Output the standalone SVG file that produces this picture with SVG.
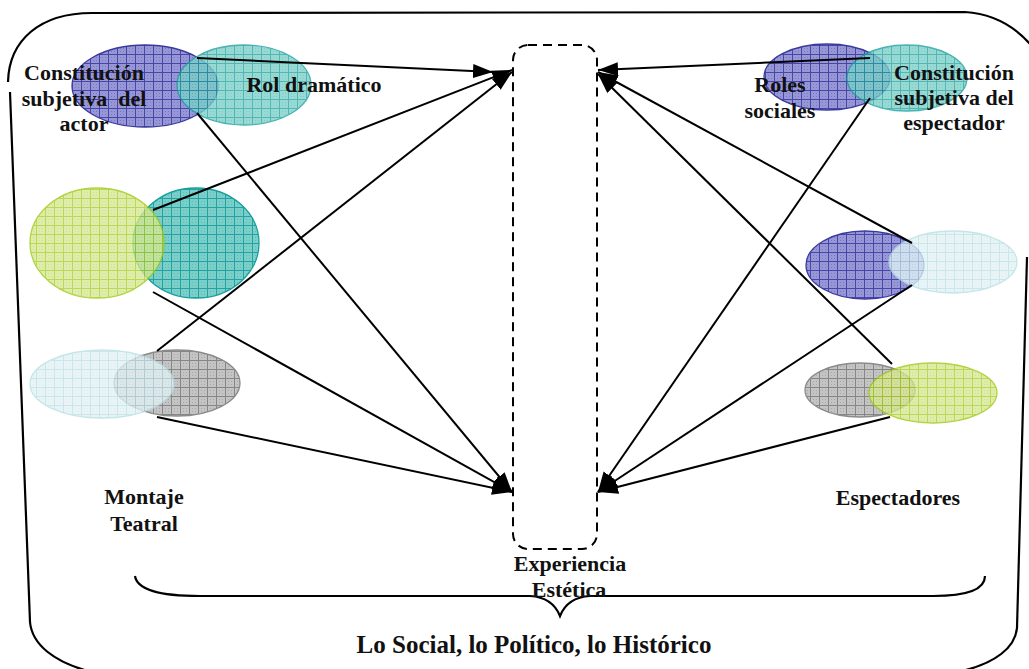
<svg xmlns="http://www.w3.org/2000/svg" width="1029" height="669" viewBox="0 0 1029 669">
  <style>
    .lbl { font-family: "Liberation Serif", "Times New Roman", serif; font-weight: bold; font-size: 22px; fill: #111; text-anchor: middle; white-space: pre; }
    .big { font-size: 25px; }
    .frame { fill: none; stroke: #000; stroke-width: 2.2; }
    .edge { fill: none; stroke: #000; stroke-width: 2; }
    .pur { fill: url(#pPur); stroke: #3a3a9e; stroke-width: 1.3; }
    .tea { fill: url(#pTea); stroke: #169e9e; stroke-width: 1.3; }
    .grn { fill: url(#pGrn); stroke: #9cc80c; stroke-width: 1.3; }
    .cya { fill: url(#pCya); stroke: #b6dfe4; stroke-width: 1.3; }
    .gry { fill: url(#pGry); stroke: #8a8a8a; stroke-width: 1.3; }
    .over { opacity: 0.78; }
  </style>
  <defs>
    <!-- grid fills -->
    <pattern id="pPur" width="9" height="9" patternUnits="userSpaceOnUse">
      <rect width="9" height="9" fill="#9797d6"/>
      <path d="M0 0.5H9M0.5 0V9" stroke="#4646aa" stroke-width="1"/>
      <path d="M3 3h1v1h-1zM6 6h1v1h-1zM6 3h1v1h-1zM3 6h1v1h-1z" fill="#7878c4"/>
    </pattern>
    <pattern id="pTea" width="9" height="9" patternUnits="userSpaceOnUse">
      <rect width="9" height="9" fill="#7ccfc9"/>
      <path d="M0 0.5H9M0.5 0V9" stroke="#22a2a0" stroke-width="1"/>
      <path d="M3 3h1v1h-1zM6 6h1v1h-1zM6 3h1v1h-1zM3 6h1v1h-1z" fill="#5cbfb9"/>
    </pattern>
    <pattern id="pGrn" width="9" height="9" patternUnits="userSpaceOnUse">
      <rect width="9" height="9" fill="#d6e892"/>
      <path d="M0 0.5H9M0.5 0V9" stroke="#a8cc2c" stroke-width="1"/>
      <path d="M3 3h1v1h-1zM6 6h1v1h-1zM6 3h1v1h-1zM3 6h1v1h-1z" fill="#c2dc6a"/>
    </pattern>
    <pattern id="pCya" width="9" height="9" patternUnits="userSpaceOnUse">
      <rect width="9" height="9" fill="#e2f2f4"/>
      <path d="M0 0.5H9M0.5 0V9" stroke="#bde0e5" stroke-width="1"/>
      <path d="M3 3h1v1h-1zM6 6h1v1h-1zM6 3h1v1h-1zM3 6h1v1h-1z" fill="#d0eaee"/>
    </pattern>
    <pattern id="pGry" width="9" height="9" patternUnits="userSpaceOnUse">
      <rect width="9" height="9" fill="#c4c4c4"/>
      <path d="M0 0.5H9M0.5 0V9" stroke="#868686" stroke-width="1"/>
      <path d="M3 3h1v1h-1zM6 6h1v1h-1zM6 3h1v1h-1zM3 6h1v1h-1z" fill="#a8a8a8"/>
    </pattern>
    <marker id="ah" markerUnits="userSpaceOnUse" markerWidth="22" markerHeight="16" refX="20" refY="7" orient="auto">
      <path d="M0 0L20 7L0 14z" fill="#000"/>
    </marker>
  </defs>

  <!-- outer frame: the social / political / historical context -->
  <g id="contexto">
    <path class="frame" d="M8 82C9 40 40 13 92 13L965 12C995 14 1018 28 1035 50"/>
    <path class="frame" d="M10 92L30 622C32 645 55 662 88 671"/>
    <path class="frame" d="M1027 257L1017 628C1015 648 995 663 962 671"/>
    <text class="lbl big" x="534" y="653">Lo Social, lo Político, lo Histórico</text>
  </g>

  <!-- lower brace -->
  <g id="llave">
    <path class="frame" d="M135 576C137 590 160 596 200 596L530 596C548 597 556 606 560 616C564 606 572 597 590 596L933 596C970 596 985 588 985 576"/>
  </g>

  <!-- aesthetic experience -->
  <g id="experiencia">
    <rect x="513" y="45" width="84" height="504" rx="15" fill="none" stroke="#000" stroke-width="2" stroke-dasharray="9 6"/>
    <text class="lbl" x="570" y="571">Experiencia</text>
    <text class="lbl" x="569" y="597">Estética</text>
  </g>

  <!-- theatrical production side -->
  <g id="actor-rol">
    <ellipse class="pur" cx="145" cy="86" rx="73" ry="41"/>
    <ellipse class="tea over" cx="244" cy="85" rx="67" ry="40"/>
    <text class="lbl" x="84" y="80">Constitución</text>
    <text class="lbl" x="84" y="106">subjetiva  del</text>
    <text class="lbl" x="84" y="131">actor</text>
    <text class="lbl" x="314" y="92">Rol dramático</text>
  </g>
  <g id="montaje-1">
    <ellipse class="tea" cx="196" cy="243" rx="63" ry="55"/>
    <ellipse class="grn over" cx="97" cy="243" rx="67" ry="55"/>
  </g>
  <g id="montaje-2">
    <ellipse class="gry" cx="177" cy="383" rx="63" ry="33"/>
    <ellipse class="cya over" cx="102" cy="384" rx="72" ry="34"/>
  </g>
  <g id="montaje-label">
    <text class="lbl" x="144" y="504">Montaje</text>
    <text class="lbl" x="144" y="531">Teatral</text>
  </g>

  <!-- spectators side -->
  <g id="roles-espectador">
    <ellipse class="pur" cx="827" cy="77" rx="63" ry="33"/>
    <ellipse class="tea over" cx="907" cy="78" rx="60" ry="33"/>
    <text class="lbl" x="780" y="92">Roles</text>
    <text class="lbl" x="780" y="118">sociales</text>
    <text class="lbl" x="954" y="80">Constitución</text>
    <text class="lbl" x="954" y="105">subjetiva del</text>
    <text class="lbl" x="954" y="130">espectador</text>
  </g>
  <g id="espectadores-1">
    <ellipse class="pur" cx="865" cy="265" rx="59" ry="34"/>
    <ellipse class="cya over" cx="953" cy="262" rx="64" ry="31"/>
  </g>
  <g id="espectadores-2">
    <ellipse class="gry" cx="860" cy="390" rx="55" ry="27"/>
    <ellipse class="grn over" cx="933" cy="393" rx="64" ry="30"/>
  </g>
  <g id="espectadores-label">
    <text class="lbl" x="898" y="505">Espectadores</text>
  </g>

  <!-- connectors -->
  <g id="conectores">
    <line class="edge" x1="197" y1="58" x2="493" y2="72" marker-end="url(#ah)"/>
    <line class="edge" x1="197" y1="113" x2="512" y2="492" marker-end="url(#ah)"/>
    <line class="edge" x1="153" y1="210" x2="512" y2="70" marker-end="url(#ah)"/>
    <line class="edge" x1="153" y1="292" x2="512" y2="492" marker-end="url(#ah)"/>
    <line class="edge" x1="157" y1="351" x2="512" y2="72" marker-end="url(#ah)"/>
    <line class="edge" x1="157" y1="417" x2="512" y2="492" marker-end="url(#ah)"/>
    <line class="edge" x1="870" y1="58" x2="598" y2="70" marker-end="url(#ah)"/>
    <line class="edge" x1="870" y1="98" x2="598" y2="492" marker-end="url(#ah)"/>
    <line class="edge" x1="912" y1="243" x2="598" y2="72" marker-end="url(#ah)"/>
    <line class="edge" x1="912" y1="285" x2="598" y2="492" marker-end="url(#ah)"/>
    <line class="edge" x1="892" y1="364" x2="598" y2="74" marker-end="url(#ah)"/>
    <line class="edge" x1="890" y1="417" x2="598" y2="492" marker-end="url(#ah)"/>
  </g>
</svg>
